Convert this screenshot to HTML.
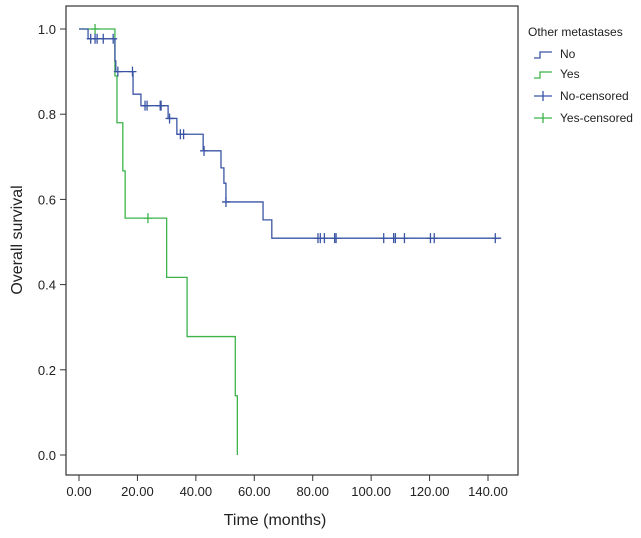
<!DOCTYPE html>
<html><head><meta charset="utf-8"><style>
body{margin:0;background:#fff;font-family:"Liberation Sans",sans-serif}
</style></head><body>
<svg id="chart" width="641" height="533" xmlns="http://www.w3.org/2000/svg">
<rect x="66" y="6" width="452" height="469" fill="#fff" stroke="#333" stroke-width="1.2"/>
<g id="axes"></g>
<g id="series"></g>
<text x="275" y="525" font-size="16" text-anchor="middle" fill="#222">Time (months)</text>
<text transform="translate(22,240) rotate(-90)" font-size="16" text-anchor="middle" fill="#222">Overall survival</text>
<g font-size="12" fill="#222">
<text x="528" y="36">Other metastases</text>
<path d="M534,58 H540 V52 H552" fill="none" stroke="#3a55a4" stroke-width="1.3"/>
<text x="560" y="58">No</text>
<path d="M534,78 H540 V72 H552" fill="none" stroke="#3cb44b" stroke-width="1.3"/>
<text x="560" y="78">Yes</text>
<path d="M534,96 H552 M543,91 V101" stroke="#3a55a4" stroke-width="1.3"/>
<text x="560" y="100">No-censored</text>
<path d="M534,118 H552 M543,113 V123" stroke="#3cb44b" stroke-width="1.3"/>
<text x="560" y="122">Yes-censored</text>
</g>
</svg>
<script>
const xTicks=[0,20,40,60,80,100,120,140];
const xTickLabels=["0.00","20.00","40.00","60.00","80.00","100.00","120.00","140.00"];
const yTicks=[0,0.2,0.4,0.6,0.8,1.0];
const yTickLabels=["0.0","0.2","0.4","0.6","0.8","1.0"];
const noTimes=[0,3.1,12.3,12.6,18.5,21.2,30.5,33.5,42.5,48.6,49.6,50.3,63,66,144.5];
const noSurv=[1.0,0.977,0.925,0.90,0.847,0.82,0.79,0.753,0.714,0.674,0.638,0.594,0.552,0.509,0.509];
const noCensor=[4,5.5,6.2,8.3,11.7,13.3,18.3,22.6,23.3,27.8,28.1,31,34.7,35.8,42.8,50.3,81.8,82.6,84,87.5,88,104.3,107.7,108.3,111.4,120.3,121.6,142.5];
const yesTimes=[0,12.3,13,15,15.8,30,37,53.5,54.2];
const yesSurv=[1.0,0.89,0.78,0.667,0.556,0.417,0.278,0.139,0];
const yesCensor=[5.5,23.6];
const xs=v=>79+v*(409/140), ys=v=>455-v*426;
const NS="http://www.w3.org/2000/svg";
function mk(t,a,p){const e=document.createElementNS(NS,t);for(const k in a)e.setAttribute(k,a[k]);p.appendChild(e);return e;}
const ax=document.getElementById('axes'), sr=document.getElementById('series');
xTicks.forEach((v,i)=>{const l=mk('line',{x1:xs(v),x2:xs(v),y1:475,y2:481,stroke:'#333'},ax);


const t=mk('text',{x:xs(v),y:496,'font-size':13,'text-anchor':'middle',fill:'#222'},ax);t.textContent=xTickLabels[i];

});
yTicks.forEach((v,i)=>{const l=mk('line',{x1:60,x2:66,y1:ys(v),y2:ys(v),stroke:'#333'},ax);


const t=mk('text',{x:56,y:ys(v)+5,'font-size':13,'text-anchor':'end',fill:'#222'},ax);t.textContent=yTickLabels[i];

});
function step(T,S,col,name){let d='M'+xs(T[0])+','+ys(S[0]);for(let i=1;i<T.length;i++){d+=' H'+xs(T[i])+' V'+ys(S[i]);}
const p=mk('path',{d:d,fill:'none',stroke:col,'stroke-width':1.3},sr);

}
function survAt(T,S,t){let s=S[0];for(let i=0;i<T.length;i++){if(T[i]<=t)s=S[i];}return s;}
function cens(C,T,S,col,name){C.forEach(c=>{const x=xs(c),y=ys(survAt(T,S,c));
const p=mk('path',{d:`M${x},${y-5} V${y+5} M${x-4},${y} H${x+4}`,stroke:col,'stroke-width':1.3},sr);

});}
step(yesTimes,yesSurv,'#3cb44b','yes-curve');
step(noTimes,noSurv,'#3a55a4','no-curve');
cens(yesCensor,yesTimes,yesSurv,'#3cb44b','yes-censor-mark');
cens(noCensor,noTimes,noSurv,'#3a55a4','no-censor-mark');
</script>
</body></html>
